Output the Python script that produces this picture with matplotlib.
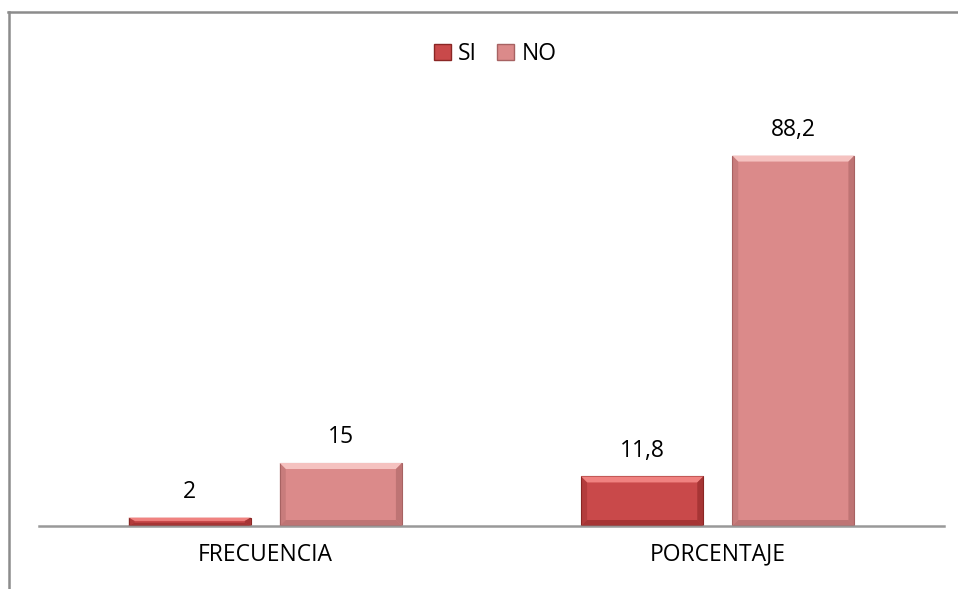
import numpy as np
import matplotlib
matplotlib.use('Agg')
import matplotlib.pyplot as plt
from matplotlib.patches import Patch, Polygon
from matplotlib.lines import Line2D

categorias = ['FRECUENCIA', 'PORCENTAJE']
series = ['SI', 'NO']
valores_si = [2, 11.8]
valores_no = [15, 88.2]
etiquetas_si = ['2', '11,8']
etiquetas_no = ['15', '88,2']

plt.rcParams['font.family'] = ['Open Sans', 'DejaVu Sans']
fs = 16.5

col_main = {'SI': '#C9494A', 'NO': '#DB8A8A'}
col_light = {'SI': '#F08280', 'NO': '#F5C2C0'}
col_dark = {'SI': '#8A2624', 'NO': '#A76262'}

fig = plt.figure(figsize=(9.58, 5.89), dpi=100)
W, H = 958, 589
x0, x1, yb, ytop = 39, 944, 526, 106
ax = fig.add_axes([x0 / W, 1 - yb / H, (x1 - x0) / W, (yb - ytop) / H])

x = np.arange(len(categorias))
ancho = 0.27
desp = 0.167
ax.set_xlim(-0.5, len(categorias) - 0.5)
ax.set_ylim(0, 100)

# bisel de unos 6 px, en unidades de datos
bx = 6 / ((x1 - x0) / len(categorias))
by = 6 / ((yb - ytop) / 100)


def barra_bisel(xc, h, serie):
    b = ax.bar(xc, h, ancho, color=col_main[serie], edgecolor=col_dark[serie],
               linewidth=0.8, zorder=2)[0]
    l, r = xc - ancho / 2, xc + ancho / 2
    dy = min(by, h / 2.5)
    dx = bx
    # arriba (claro)
    ax.add_patch(Polygon([(l, h), (r, h), (r - dx, h - dy), (l + dx, h - dy)],
                         closed=True, color=col_light[serie], lw=0, zorder=3))
    # lados (oscuro)
    ax.add_patch(Polygon([(l, h), (l + dx, h - dy), (l + dx, dy), (l, 0)],
                         closed=True, color=col_dark[serie], alpha=0.35, lw=0, zorder=3))
    ax.add_patch(Polygon([(r, h), (r - dx, h - dy), (r - dx, dy), (r, 0)],
                         closed=True, color=col_dark[serie], alpha=0.55, lw=0, zorder=3))
    # abajo
    ax.add_patch(Polygon([(l, 0), (l + dx, dy), (r - dx, dy), (r, 0)],
                         closed=True, color=col_dark[serie], alpha=0.55, lw=0, zorder=3))
    return b


for i in range(len(categorias)):
    barra_bisel(x[i] - desp, valores_si[i], 'SI')
    barra_bisel(x[i] + desp, valores_no[i], 'NO')
    ax.annotate(etiquetas_si[i], (x[i] - desp, valores_si[i]), xytext=(0, 10),
                textcoords='offset points', ha='center', va='bottom', fontsize=fs)
    ax.annotate(etiquetas_no[i], (x[i] + desp, valores_no[i]), xytext=(0, 10),
                textcoords='offset points', ha='center', va='bottom', fontsize=fs)

ax.set_xticks(x)
ax.set_xticklabels(categorias, fontsize=fs)
ax.tick_params(axis='x', length=0, pad=12)
ax.set_yticks([])
for s in ['top', 'right', 'left']:
    ax.spines[s].set_visible(False)
ax.spines['bottom'].set_color('#999999')
ax.spines['bottom'].set_linewidth(1.8)

handles = [Patch(facecolor=col_main[s], edgecolor=col_dark[s]) for s in series]
fig.legend(handles, series, loc='center', bbox_to_anchor=(495 / W, 1 - 54 / H),
           ncol=2, frameon=False, fontsize=fs, handlelength=0.75, handleheight=0.75,
           handletextpad=0.3, columnspacing=0.9)

# marco exterior (solo arriba e izquierda visibles)
fig.add_artist(Line2D([8 / W, 1], [1 - 12 / H, 1 - 12 / H], color='#8C8C8C', lw=1.8))
fig.add_artist(Line2D([9 / W, 9 / W], [0, 1 - 12 / H], color='#8C8C8C', lw=1.8))

fig.savefig('out.png', dpi=100)
